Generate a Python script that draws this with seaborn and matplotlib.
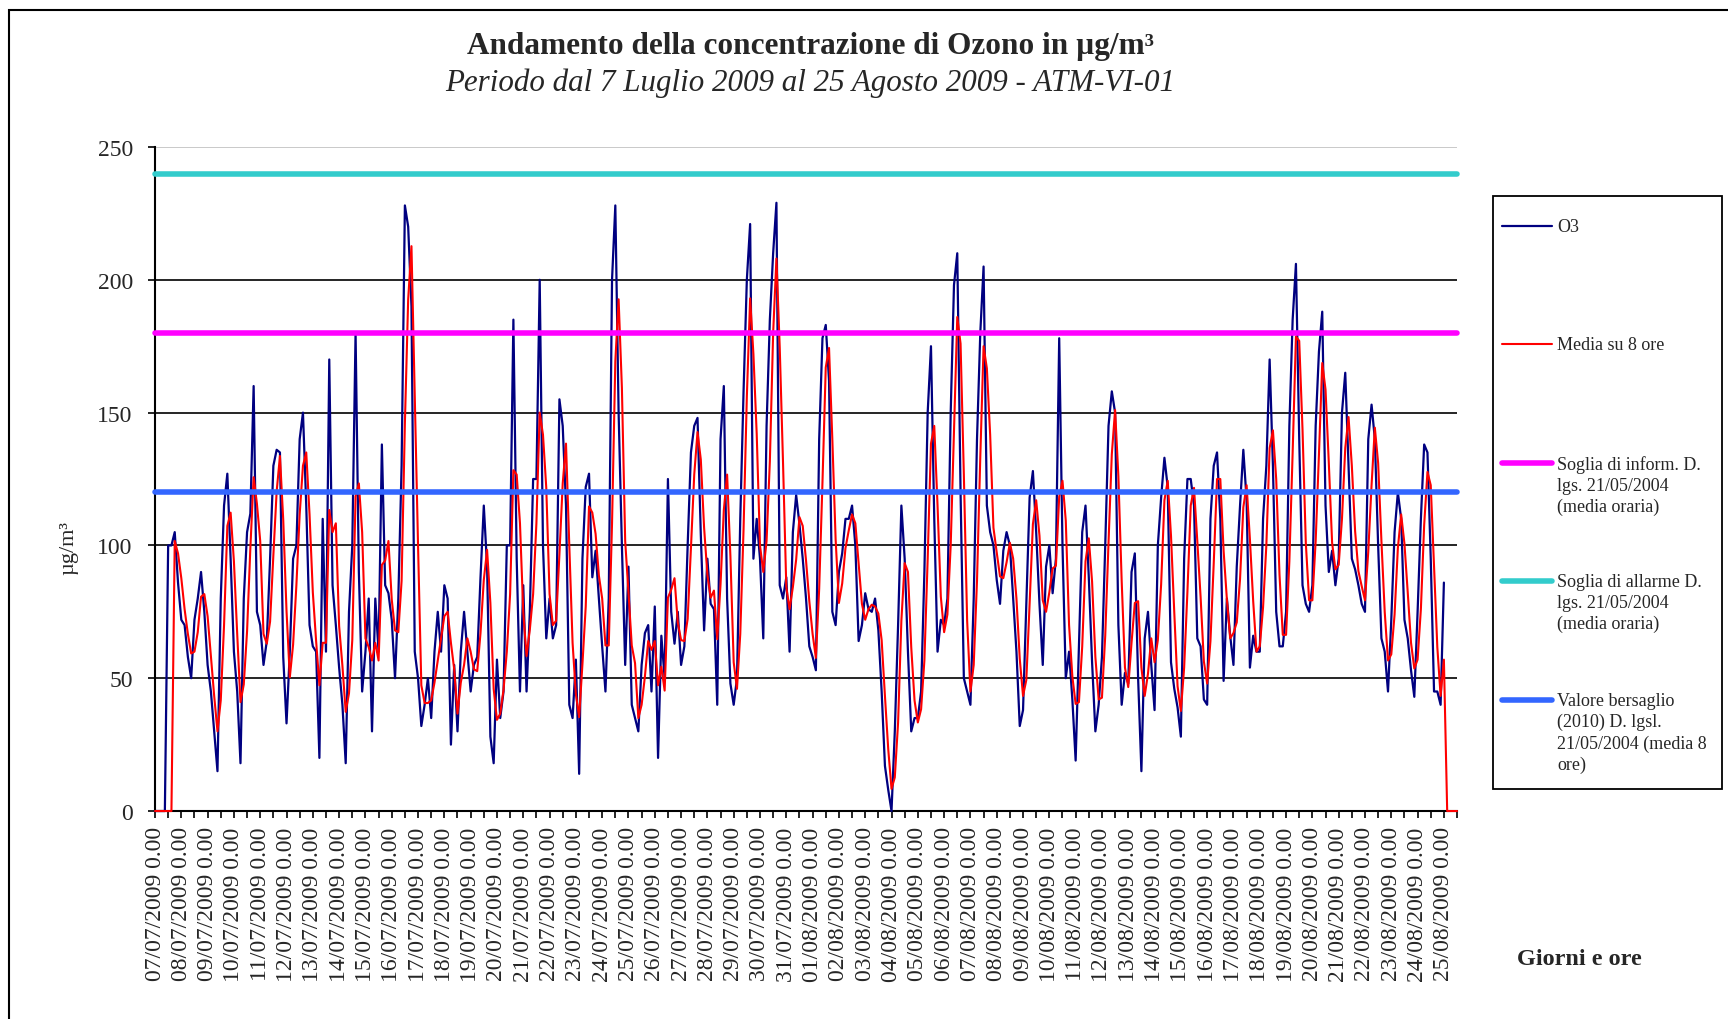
import pandas as pd
import seaborn as sns
import matplotlib.pyplot as plt
import matplotlib.dates as mdates
from matplotlib.lines import Line2D
from matplotlib.patches import Rectangle

# O3 ogni 3 ore (0, 3, 6, ..., 21) dal 07/07/2009 al 25/08/2009 0.00
o3 = [
    None, None, None, None, 100, 100, 105, 86,   # 07/07
    72, 70, 58, 50, 72, 80, 90, 75,              # 08/07
    55, 45, 30, 15, 80, 115, 127, 95,            # 09/07
    60, 45, 18, 80, 105, 112, 160, 75,           # 10/07
    70, 55, 64, 95, 130, 136, 135, 58,           # 11/07
    33, 60, 95, 100, 140, 150, 115, 70,          # 12/07
    62, 60, 20, 110, 60, 170, 85, 70,            # 13/07
    54, 40, 18, 75, 100, 180, 90, 45,            # 14/07
    60, 80, 30, 80, 60, 138, 85, 82,             # 15/07
    72, 50, 80, 130, 228, 220, 190, 60,          # 16/07
    50, 32, 40, 50, 35, 60, 75, 60,              # 17/07
    85, 80, 25, 55, 30, 60, 75, 60,              # 18/07
    45, 55, 58, 88, 115, 92, 28, 18,             # 19/07
    57, 35, 45, 100, 100, 185, 95, 45,           # 20/07
    85, 45, 75, 125, 125, 200, 100, 65,          # 21/07
    80, 65, 70, 155, 145, 115, 40, 35,           # 22/07
    57, 14, 95, 122, 127, 88, 98, 80,            # 23/07
    62, 45, 80, 200, 228, 150, 100, 55,          # 24/07
    92, 40, 35, 30, 55, 67, 70, 45,              # 25/07
    77, 20, 66, 50, 125, 75, 63, 75,             # 26/07
    55, 62, 100, 135, 145, 148, 104, 68,         # 27/07
    95, 78, 76, 40, 140, 160, 80, 48,            # 28/07
    40, 50, 110, 158, 200, 221, 95, 110,         # 29/07
    95, 65, 145, 185, 210, 229, 85, 80,          # 30/07
    88, 60, 105, 119, 108, 95, 80, 62,           # 31/07
    58, 53, 140, 178, 183, 162, 75, 70,          # 01/08
    90, 97, 110, 110, 115, 100, 64, 70,          # 02/08
    82, 76, 75, 80, 68, 45, 17, 8,               # 03/08
    0, 30, 70, 115, 95, 60, 30, 35,              # 04/08
    35, 45, 90, 150, 175, 110, 60, 72,           # 05/08
    70, 80, 150, 198, 210, 120, 50, 45,          # 06/08
    40, 80, 140, 180, 205, 115, 105, 100,        # 07/08
    87, 78, 98, 105, 100, 80, 60, 32,            # 08/08
    38, 78, 118, 128, 105, 78, 55, 92,           # 09/08
    100, 82, 95, 178, 100, 50, 60, 42,           # 10/08
    19, 62, 105, 115, 88, 56, 30, 40,            # 11/08
    58, 100, 145, 158, 150, 70, 40, 52,          # 12/08
    48, 90, 97, 50, 15, 65, 75, 55,              # 13/08
    38, 100, 118, 133, 122, 56, 46, 39,          # 14/08
    28, 95, 125, 125, 115, 65, 62, 42,           # 15/08
    40, 110, 130, 135, 110, 49, 80, 66,          # 16/08
    55, 92, 115, 136, 117, 54, 66, 60,           # 17/08
    60, 110, 130, 170, 130, 75, 62, 62,          # 18/08
    75, 145, 185, 206, 140, 85, 78, 75,          # 19/08
    85, 145, 173, 188, 115, 90, 98, 85,          # 20/08
    95, 150, 165, 130, 95, 91, 85, 78,           # 21/08
    75, 140, 153, 140, 100, 65, 60, 45,          # 22/08
    72, 105, 120, 110, 72, 65, 53, 43,           # 23/08
    75, 110, 138, 135, 95, 45, 45, 40,           # 24/08
    86,                                          # 25/08 0.00
]

soglie = [180, 240, 120]
soglie_nomi = [
    "Soglia di inform. D.\nlgs. 21/05/2004\n(media oraria)",
    "Soglia di allarme D.\nlgs. 21/05/2004\n(media oraria)",
    "Valore bersaglio\n(2010) D. lgsl.\n21/05/2004 (media 8\nore)",
]
soglie_colori = ["#FF00FF", "#33CCCC", "#3366FF"]

inizio = pd.Timestamp("2009-07-07 00:00")
fine_asse = pd.Timestamp("2009-08-25 12:00")

tempi = pd.date_range(inizio, periods=len(o3), freq="3h")
serie = pd.Series(o3, index=tempi, dtype=float)
serie = serie.reindex(pd.date_range(inizio, fine_asse, freq="3h"))

# media mobile su 8 ore
media8 = serie.rolling("8h", min_periods=3).mean().fillna(0)
o3_plot = serie.copy()
primo = serie.first_valid_index()
o3_plot[:primo] = o3_plot[:primo].fillna(0)

df = pd.DataFrame({"tempo": serie.index, "O3": o3_plot.values, "media": media8.values})

sns.set_style("white")
plt.rcParams["font.family"] = ["Liberation Serif", "DejaVu Serif"]

fig = plt.figure(figsize=(17.28, 10.2), dpi=100)
ax = fig.add_axes([0.0897, 0.2039, 0.7535, 0.6510])

sns.lineplot(data=df.dropna(subset=["O3"]), x="tempo", y="O3", ax=ax,
             color="#000080", lw=1.6, estimator=None, zorder=3, clip_on=False)
sns.lineplot(data=df, x="tempo", y="media", ax=ax,
             color="#FF0000", lw=1.5, estimator=None, zorder=3.5, clip_on=False)

for val, col in zip(soglie, soglie_colori):
    ax.axhline(val, color=col, lw=4, solid_capstyle="round", clip_on=False, zorder=5)

ax.set_xlim(inizio, fine_asse)
ax.set_ylim(0, 250)
ax.set_yticks(range(0, 251, 50))
ax.xaxis.set_major_locator(mdates.DayLocator())
ax.xaxis.set_minor_locator(mdates.HourLocator(byhour=[12]))
ax.xaxis.set_major_formatter(mdates.DateFormatter("%d/%m/%Y 0.00"))
ax.tick_params(axis="x", which="both", direction="out", length=5, width=1.2, color="black",
               bottom=True, labelsize=17, labelrotation=90, pad=6)
ax.tick_params(axis="y", direction="out", length=5, width=1.2, color="black",
               left=True, labelsize=17, pad=11)
ax.set_xlabel("")
ax.set_ylabel("")

ax.grid(axis="y", color="black", lw=1.2)
ax.set_axisbelow(True)
ax.get_ygridlines()[-1].set_color("#c0c0c0")
for s in ["top", "right"]:
    ax.spines[s].set_visible(False)
for s in ["left", "bottom"]:
    ax.spines[s].set_color("black")
    ax.spines[s].set_linewidth(1.5)
    ax.spines[s].set_zorder(2)

fig.text(0.0400, 0.463, "µg/m³", rotation=90, ha="center", va="center", fontsize=16)

fig.text(0.469, 0.954, "Andamento della concentrazione di Ozono in µg/m³",
         ha="center", va="center", fontsize=22.5, fontweight="bold")
fig.text(0.469, 0.918, "Periodo dal 7 Luglio 2009 al 25 Agosto 2009 - ATM-VI-01",
         ha="center", va="center", fontsize=22.3, fontstyle="italic")

fig.text(0.914, 0.059, "Giorni e ore", ha="center", va="center", fontsize=17.5, fontweight="bold")

# legenda
W, H = 1728, 1020
fig.add_artist(Rectangle((1493 / W, 1 - 790 / H), (1722 - 1493) / W, (790 - 197) / H,
                         transform=fig.transFigure, fill=False, ec="black", lw=1.3))
voci = ["O3", "Media su 8 ore"] + soglie_nomi
colori = ["#000080", "#FF0000"] + soglie_colori
spessori = [1.6, 1.5, 4, 4, 4]
righe_y = [227, 345, 464, 582, 701]
for nome, col, lw, y in zip(voci, colori, spessori, righe_y):
    fig.add_artist(Line2D([1502 / W, 1552 / W], [1 - y / H, 1 - y / H], transform=fig.transFigure,
                          color=col, lw=lw, solid_capstyle="round"))
    fig.text(1557 / W, 1 - (y - 8) / H, nome, ha="left", va="top", fontsize=13, linespacing=1.3)

fig.add_artist(Rectangle((9 / W, -0.05), 1.2, 1 - 11 / H + 0.05, transform=fig.transFigure,
                         fill=False, ec="black", lw=1.5))

fig.savefig("out.png", dpi=100)
